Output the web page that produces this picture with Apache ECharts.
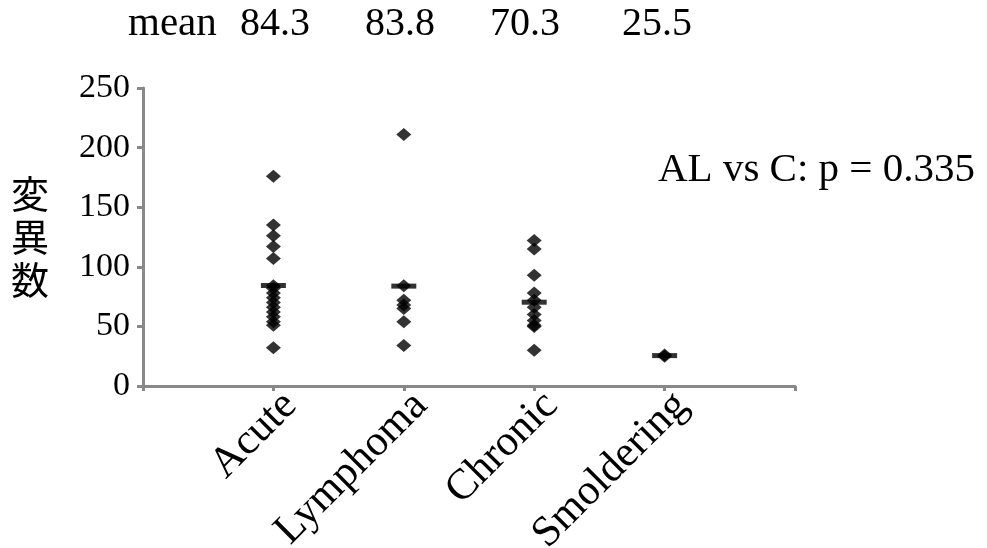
<!DOCTYPE html>
<html>
<head>
<meta charset="utf-8">
<script src="https://cdn.jsdelivr.net/npm/echarts@6/dist/echarts.min.js"></script>
<style>html,body{margin:0;padding:0;background:#fff}#c{width:987px;height:548px}</style>
</head>
<body>
<div id="c"></div>
<script>
const categories = ['Acute', 'Lymphoma', 'Chronic', 'Smoldering'];
const acute = [176, 135, 126, 117, 107, 84, 82, 78, 74, 70, 66, 62, 58, 54, 51, 32];
const lymphoma = [211, 84, 72, 68, 65, 54, 34];
const chronic = [122, 115, 93, 78, 72, 66, 60, 55, 51, 50, 30];
const smoldering = [25, 26];
const means = [84.3, 83.8, 70.3, 25.5];
const yTicks = [0, 50, 100, 150, 200, 250];
const annotation = 'AL vs C: p = 0.335';
const yName = '変異数';

const groups = [acute, lymphoma, chronic, smoldering];
const pts = [];
groups.forEach((g, i) => g.forEach(v => pts.push([i + 1, v])));
const meanPts = means.map((m, i) => [i + 1, m]);

const chart = echarts.init(document.getElementById('c'));
const serif = '"Liberation Serif", "DejaVu Serif", serif';
chart.setOption({
  animation: false,
  grid: { left: 143, right: 192, top: 88, bottom: 162, containLabel: false, outerBoundsMode: 'none' },
  xAxis: {
    type: 'value', min: 0, max: 5, interval: 1,
    axisLine: { show: true, lineStyle: { color: '#888', width: 3 } },
    axisTick: { show: true, length: 5, lineStyle: { color: '#888', width: 3 } },
    splitLine: { show: false },
    axisLabel: {
      rotate: 45, margin: 30, color: '#000', fontFamily: serif, fontSize: 43,
      padding: [0, -24, 0, 0],
      formatter: v => (v >= 1 && v <= 4) ? categories[v - 1] : ''
    }
  },
  yAxis: {
    type: 'value', min: yTicks[0], max: yTicks[yTicks.length - 1], interval: 50,
    axisLine: { show: true, lineStyle: { color: '#888', width: 3 } },
    axisTick: { show: true, length: 6, lineStyle: { color: '#888', width: 3 } },
    splitLine: { show: false },
    axisLabel: { margin: 13, color: '#000', fontFamily: serif, fontSize: 34 }
  },
  graphic: [
    { type: 'text', left: 128, top: 4, style: { text: 'mean', font: '41px ' + serif, fill: '#000' } },
    ...means.map((m, i) => ({
      type: 'text', x: [275, 400, 525, 657][i], y: 4,
      style: { text: m.toFixed(1), font: '40px ' + serif, fill: '#000', textAlign: 'center' }
    })),
    { type: 'text', left: 658, top: 150, style: { text: annotation, font: '41px ' + serif, fill: '#000' } },
    { type: 'text', left: 11, top: 172, style: { text: yName.split('').join('\n'), font: '38px "Noto Sans CJK JP"', fill: '#000', lineHeight: 43 } }
  ],
  series: [
    {
      type: 'scatter', data: pts, symbol: 'diamond', symbolSize: [15, 13],
      itemStyle: { color: '#000' }, z: 2
    },
    {
      type: 'scatter', data: meanPts, symbol: 'rect', symbolSize: [25, 5],
      itemStyle: { color: '#000' }, z: 3
    }
  ]
});
</script>
</body>
</html>
